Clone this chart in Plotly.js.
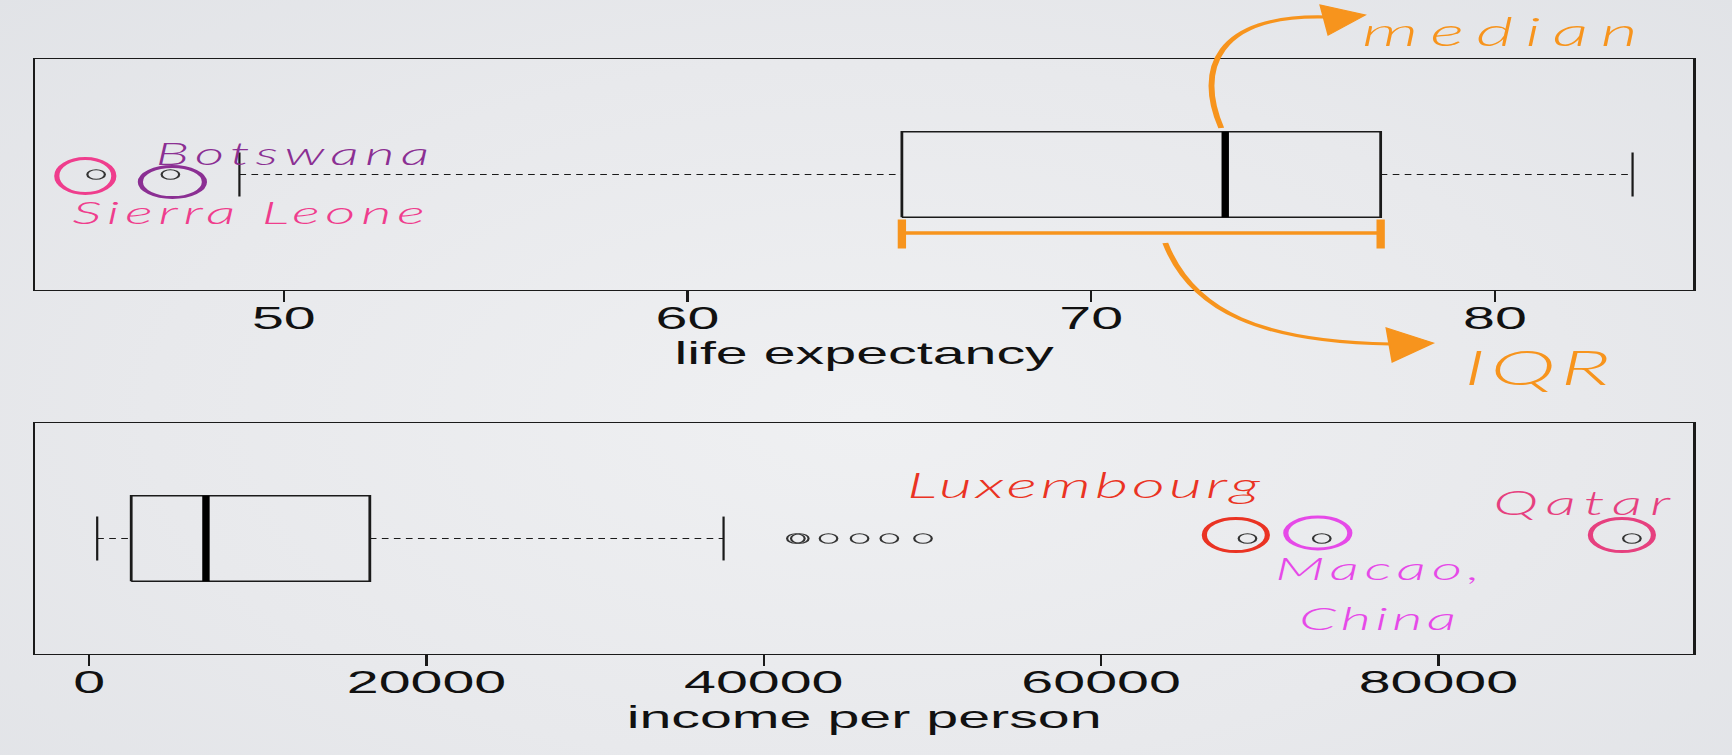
<!DOCTYPE html>
<html><head><meta charset="utf-8">
<script src="https://cdn.plot.ly/plotly-3.0.1.min.js"></script>
<style>
html,body{margin:0;padding:0;width:1732px;height:755px;overflow:hidden;
background: radial-gradient(ellipse 75% 85% at 50% 55%, #eff0f2 0%, #e8e9ec 55%, #e0e2e6 100%);}
#chart{width:936px;height:755px;transform:scaleX(1.8504);transform-origin:0 0;}
</style></head><body><div id="chart"></div><script>
// ---------------- data ----------------
const axisTitles = ['life expectancy', 'income per person'];
// [lower whisker, Q1, median, Q3, upper whisker]
const lifeBox = [48.90, 65.31, 73.32, 77.17, 83.41];
const lifeOutliers = [45.35, 47.19];
const lifeOutlierNames = ['Sierra Leone', 'Botswana'];
const incomeBox = [475, 2492, 6923, 16640, 37615];
const incomeOutliers = [41904, 42135, 43838, 45680, 47444, 49441, 68680, 73088, 91475];
const incomeNamedValues = [68680, 73088, 91475];
const incomeNamedLabels = ['Luxembourg', 'Macao, China', 'Qatar'];
const lifeTicks = [50, 60, 70, 80];
const incomeTicks = [0, 20000, 40000, 60000, 80000];

// ---------------- geometry / style ----------------
const S = 1732 / 936;             // horizontal stretch of the original slide
const L = 36, R = 1693, T = 59, B = 654;   // plot frame in page pixels
const lifeRange = [43.84, 84.91];
const incomeRange = [-3204, 95105];
const ink = '#1a1a1a';
const orange = '#f7941d';
const hand = {family: 'Lato, "Open Sans", sans-serif', style: 'italic', weight: 300};
const px = X => (X - L) / (R - L);
const py = Y => (B - Y) / (B - T);
const P = (X, Y) => px(X).toFixed(5) + ',' + py(Y).toFixed(5);
const ppuLife = (R - L) / (lifeRange[1] - lifeRange[0]);
const ppuInc = (R - L) / (incomeRange[1] - incomeRange[0]);
const ppy = 231 / 2;              // pixels per y unit in each panel
const xLifePx = v => L + (v - lifeRange[0]) * ppuLife;

const BOXH = 0.371, CAPH = 0.19;

function boxTraces(st, outl, xa, ya) {
  const [lw, q1, md, q3, uw] = st;
  return [
    {type: 'scatter', mode: 'lines', xaxis: xa, yaxis: ya, x: [lw, q1, null, q3, uw], y: [0, 0, null, 0, 0],
     line: {color: ink, width: 1.2, dash: '3.6px,2.9px'}, hoverinfo: 'skip'},
    {type: 'scatter', mode: 'lines', xaxis: xa, yaxis: ya, x: [lw, lw, null, uw, uw], y: [-CAPH, CAPH, null, -CAPH, CAPH],
     line: {color: ink, width: 1.2}, hoverinfo: 'skip'},
    {type: 'scatter', mode: 'lines', xaxis: xa, yaxis: ya, x: [q1, q3, q3, q1, q1], y: [-BOXH, -BOXH, BOXH, BOXH, -BOXH],
     line: {color: ink, width: 1.5}, hoverinfo: 'skip'},
    {type: 'scatter', mode: 'lines', xaxis: xa, yaxis: ya, x: [md, md], y: [-BOXH, BOXH],
     line: {color: '#000', width: 4}, hoverinfo: 'skip'},
    {type: 'scatter', mode: 'markers', xaxis: xa, yaxis: ya, x: outl, y: outl.map(() => 0),
     marker: {symbol: 'circle-open', size: 9.5, color: '#333', line: {width: 1.2}}, hoverinfo: 'skip'}
  ];
}

const traces = [
  ...boxTraces(lifeBox, lifeOutliers, 'x', 'y'),
  ...boxTraces(incomeBox, incomeOutliers, 'x2', 'y2'),
  // IQR bracket under the life-expectancy box
  {type: 'scatter', mode: 'lines', xaxis: 'x', yaxis: 'y', x: [lifeBox[1], lifeBox[3]], y: [-0.507, -0.507],
   line: {color: orange, width: 3.5}, hoverinfo: 'skip'},
  {type: 'scatter', mode: 'lines', xaxis: 'x', yaxis: 'y',
   x: [lifeBox[1], lifeBox[1], null, lifeBox[3], lifeBox[3]], y: [-0.39, -0.64, null, -0.39, -0.64],
   line: {color: orange, width: 4.5}, hoverinfo: 'skip'}
];

// highlight rings: [dx px, dy px, rx px, ry px, colour]
const lifeRings = [[-10.8, 1.5, 28.5, 17.5, '#ef3d8d'], [2, 7.5, 32, 15.5, '#8b2f93']];
const incRings = [[-11.6, -3.5, 31.5, 16.5, '#ea3323'], [-4, -5.5, 32, 16, '#e649e8'], [-10, -3.5, 31.5, 16.5, '#e6407f']];
const shapes = [];
lifeOutliers.forEach((v, i) => {
  const [dx, dy, rx, ry, c] = lifeRings[i];
  const cx = v + dx / ppuLife, cy = -dy / ppy;
  shapes.push({type: 'circle', xref: 'x', yref: 'y', x0: cx - rx / ppuLife, x1: cx + rx / ppuLife,
    y0: cy - ry / ppy, y1: cy + ry / ppy, line: {color: c, width: 2.8}});
});
incomeNamedValues.forEach((v, i) => {
  const [dx, dy, rx, ry, c] = incRings[i];
  const cx = v + dx / ppuInc, cy = -dy / ppy;
  shapes.push({type: 'circle', xref: 'x2', yref: 'y2', x0: cx - rx / ppuInc, x1: cx + rx / ppuInc,
    y0: cy - ry / ppy, y1: cy + ry / ppy, line: {color: c, width: 2.8}});
});
// curved orange arrows
const mX = xLifePx(lifeBox[2]) - 4;
const iX = xLifePx((lifeBox[1] + lifeBox[3]) / 2) + 24;
shapes.push({type: 'path', xref: 'paper', yref: 'paper', layer: 'above',
  path: `M ${P(mX,128)} C ${P(mX-25,70)} ${P(mX-6,14)} ${P(mX+105,17)}`, line: {color: orange, width: 3.2}});
shapes.push({type: 'path', xref: 'paper', yref: 'paper', fillcolor: orange,
  path: `M ${P(mX+99,5)} L ${P(mX+144,15)} L ${P(mX+107,35)} Z`, line: {color: orange, width: 1}});
shapes.push({type: 'path', xref: 'paper', yref: 'paper',
  path: `M ${P(iX,243)} C ${P(iX+27,312)} ${P(iX+97,342)} ${P(iX+225,344)}`, line: {color: orange, width: 3.2}});
shapes.push({type: 'path', xref: 'paper', yref: 'paper', fillcolor: orange,
  path: `M ${P(iX+221,328)} L ${P(iX+268,343)} L ${P(iX+227,362)} Z`, line: {color: orange, width: 1}});

// handwritten notes: letter spacing (px, before the horizontal stretch) widens them like the reference
const ann = (text, X, Y, size, color, ls) => ({
  text: ls ? `<span style="letter-spacing:${ls}px">${text}</span>` : text,
  xref: 'paper', yref: 'paper', x: px(X), y: py(Y),
  xanchor: 'center', yanchor: 'middle', showarrow: false, borderpad: 0, font: Object.assign({size, color}, hand)});
const annotations = [
  ann(lifeOutlierNames[1], 296, 153, 31, '#8b2f93', 3.3),
  ann(lifeOutlierNames[0], 252, 212, 32, '#ef3d8d', 3.0),
  ann('median', 1507, 31, 39, orange, 6.5),
  ann('IQR', 1540, 367, 48, orange, 2.5),
  ann(incomeNamedLabels[0], 1085, 484, 35, '#ea3323', 2.0),
  ann(incomeNamedLabels[1].split(' ')[0], 1380, 567, 32, '#e649e8', 3.0),
  ann(incomeNamedLabels[1].split(' ')[1], 1380, 617, 32, '#e649e8', 2.3),
  ann(incomeNamedLabels[2], 1586, 502, 33, '#e6407f', 4.2)
];

const tickFont = {family: '"Liberation Sans", Arial, sans-serif', size: 31, color: '#111'};
const xCommon = {showline: true, mirror: true, linecolor: ink, linewidth: 1.3, showgrid: false, zeroline: false,
  ticks: 'outside', ticklen: 11, tickwidth: 1.3, tickcolor: ink, tickfont: tickFont, ticklabelstandoff: -10,
  fixedrange: true};
const yCommon = {range: [-1, 1], showline: true, mirror: true, linecolor: ink, linewidth: 1.3, showgrid: false,
  zeroline: false, showticklabels: false, ticks: '', fixedrange: true};

const layout = {
  width: 936, height: 755,
  margin: {l: L / S, r: (1732 - R) / S, t: T, b: 755 - B},
  paper_bgcolor: 'rgba(0,0,0,0)', plot_bgcolor: 'rgba(0,0,0,0)',
  showlegend: false,
  xaxis: Object.assign({}, xCommon, {anchor: 'y', range: lifeRange, tickmode: 'array', tickvals: lifeTicks,
    title: {text: axisTitles[0], font: tickFont, standoff: 6}}),
  yaxis: Object.assign({}, yCommon, {domain: [(B - 290) / (B - T), 1]}),
  xaxis2: Object.assign({}, xCommon, {anchor: 'y2', range: incomeRange, tickmode: 'array', tickvals: incomeTicks,
    tickformat: 'd', title: {text: axisTitles[1], font: tickFont, standoff: 4}}),
  yaxis2: Object.assign({}, yCommon, {domain: [0, (B - 423) / (B - T)]}),
  shapes, annotations
};
Plotly.newPlot('chart', traces, layout, {displayModeBar: false, staticPlot: true});
</script></body></html>
